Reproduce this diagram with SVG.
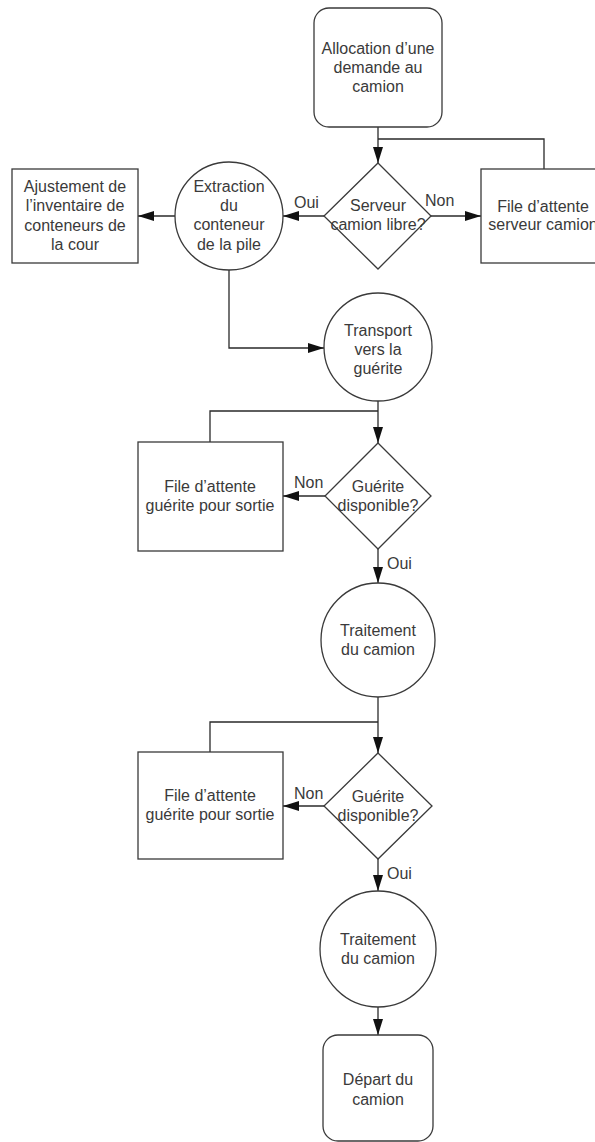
<svg xmlns="http://www.w3.org/2000/svg" width="595" height="1142" viewBox="0 0 595 1142">
  <style>
    .shape { fill: #ffffff; stroke: #3a3a3a; stroke-width: 1.3; }
    .edge { fill: none; stroke: #2a2a2a; stroke-width: 1.3; }
    text { font-family: "Liberation Sans", Arial, sans-serif; font-size: 16px; fill: #3a3a3a; }
    .c { text-anchor: middle; }
  </style>
  <defs>
    <marker id="arrow" viewBox="0 0 16 10" refX="16" refY="5" markerWidth="16" markerHeight="10" markerUnits="userSpaceOnUse" orient="auto">
      <path d="M0,0 L16,5 L0,10 Z" fill="#111111"/>
    </marker>
  </defs>
  <rect width="595" height="1142" fill="#ffffff"/>

  <!-- connectors -->
  <g id="connectors">
    <path class="edge" d="M378,127 V163" marker-end="url(#arrow)"/>
    <path class="edge" d="M544,169 V139 H378"/>
    <path class="edge" d="M431,216 H481" marker-end="url(#arrow)"/>
    <path class="edge" d="M324,216 H283" marker-end="url(#arrow)"/>
    <path class="edge" d="M175,216 H138" marker-end="url(#arrow)"/>
    <path class="edge" d="M229,270 V348 H324" marker-end="url(#arrow)"/>
    <path class="edge" d="M378,401 V443" marker-end="url(#arrow)"/>
    <path class="edge" d="M210,442 V411 H378"/>
    <path class="edge" d="M325,496 H283" marker-end="url(#arrow)"/>
    <path class="edge" d="M378,549 V583" marker-end="url(#arrow)"/>
    <path class="edge" d="M378,697 V753" marker-end="url(#arrow)"/>
    <path class="edge" d="M210,752 V722 H378"/>
    <path class="edge" d="M324,806 H283" marker-end="url(#arrow)"/>
    <path class="edge" d="M378,859 V891" marker-end="url(#arrow)"/>
    <path class="edge" d="M378,1007 V1035" marker-end="url(#arrow)"/>
    <text x="294" y="208">Oui</text>
    <text x="425" y="206">Non</text>
    <text x="294" y="488">Non</text>
    <text x="387" y="569">Oui</text>
    <text x="294" y="799">Non</text>
    <text x="387" y="879">Oui</text>
  </g>

  <g id="allocation">
    <rect class="shape" x="314" y="8" width="128" height="119" rx="15" ry="15"/>
    <text class="c" x="378" y="54">Allocation d’une</text>
    <text class="c" x="378" y="73">demande au</text>
    <text class="c" x="378" y="92">camion</text>
  </g>

  <g id="serveur-libre">
    <polygon class="shape" points="378,163 431,216 378,269 324,216"/>
    <text class="c" x="378" y="211">Serveur</text>
    <text class="c" x="378" y="230">camion libre?</text>
  </g>

  <g id="file-serveur">
    <rect class="shape" x="481" y="169" width="124" height="94"/>
    <text class="c" x="543" y="212">File d’attente</text>
    <text class="c" x="543" y="230">serveur camion</text>
  </g>

  <g id="extraction">
    <circle class="shape" cx="229" cy="216" r="54"/>
    <text class="c" x="229" y="192">Extraction</text>
    <text class="c" x="229" y="211">du</text>
    <text class="c" x="229" y="230">conteneur</text>
    <text class="c" x="229" y="250">de la pile</text>
  </g>

  <g id="ajustement">
    <rect class="shape" x="12" y="169" width="126" height="94"/>
    <text class="c" x="75" y="192">Ajustement de</text>
    <text class="c" x="75" y="211">l’inventaire de</text>
    <text class="c" x="75" y="231">conteneurs de</text>
    <text class="c" x="75" y="250">la cour</text>
  </g>

  <g id="transport">
    <circle class="shape" cx="378" cy="347" r="54"/>
    <text class="c" x="378" y="336">Transport</text>
    <text class="c" x="378" y="355">vers la</text>
    <text class="c" x="378" y="374">guérite</text>
  </g>

  <g id="guerite-1">
    <polygon class="shape" points="378,443 431,496 378,549 325,496"/>
    <text class="c" x="378" y="492">Guérite</text>
    <text class="c" x="378" y="511">disponible?</text>
  </g>

  <g id="file-guerite-1">
    <rect class="shape" x="138" y="442" width="145" height="109"/>
    <text class="c" x="210" y="492">File d’attente</text>
    <text class="c" x="210" y="511">guérite pour sortie</text>
  </g>

  <g id="traitement-1">
    <circle class="shape" cx="378" cy="640" r="57"/>
    <text class="c" x="378" y="636">Traitement</text>
    <text class="c" x="378" y="655">du camion</text>
  </g>

  <g id="guerite-2">
    <polygon class="shape" points="378,753 432,806 378,859 324,806"/>
    <text class="c" x="378" y="802">Guérite</text>
    <text class="c" x="378" y="821">disponible?</text>
  </g>

  <g id="file-guerite-2">
    <rect class="shape" x="138" y="752" width="145" height="107"/>
    <text class="c" x="210" y="801">File d’attente</text>
    <text class="c" x="210" y="820">guérite pour sortie</text>
  </g>

  <g id="traitement-2">
    <circle class="shape" cx="378" cy="949" r="58"/>
    <text class="c" x="378" y="945">Traitement</text>
    <text class="c" x="378" y="964">du camion</text>
  </g>

  <g id="depart">
    <rect class="shape" x="323" y="1035" width="110" height="106" rx="15" ry="15"/>
    <text class="c" x="378" y="1085">Départ du</text>
    <text class="c" x="378" y="1105">camion</text>
  </g>
</svg>
